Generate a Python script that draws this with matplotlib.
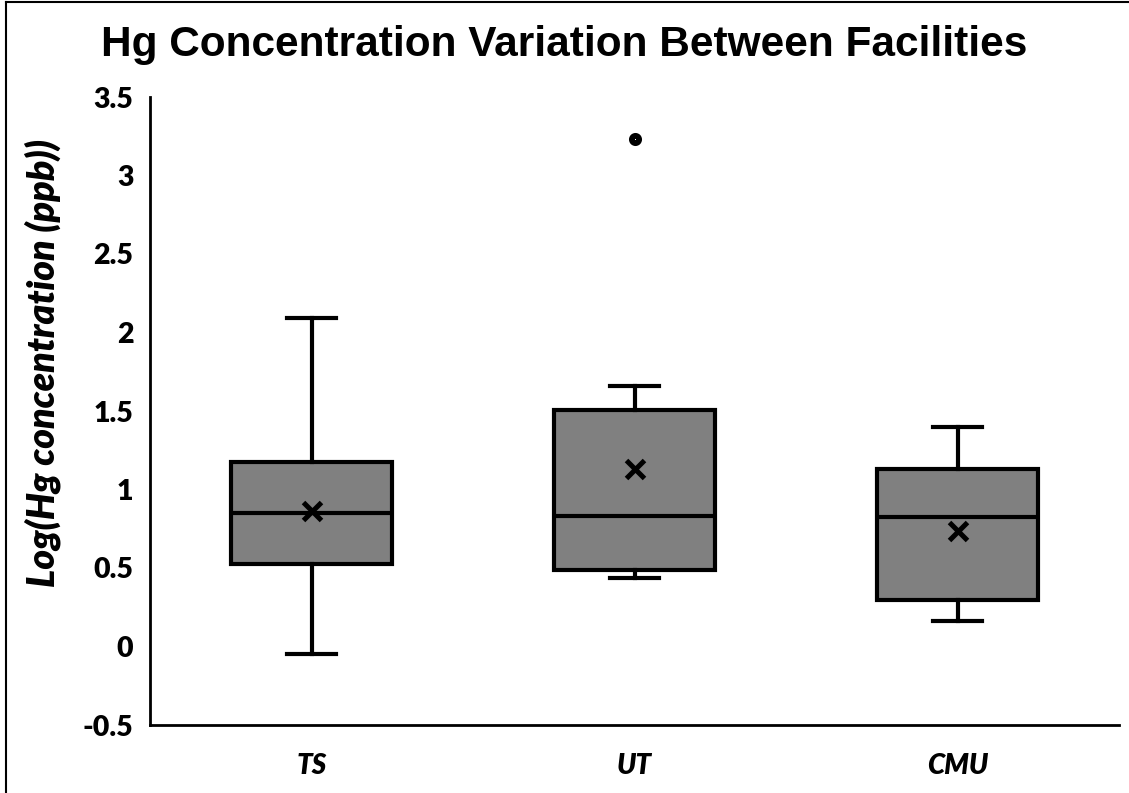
import matplotlib
matplotlib.use("Agg")
import matplotlib.pyplot as plt

# data (log10 of Hg ppb)
facilities = ["TS", "UT", "CMU"]
whisker_low = [-0.045, 0.435, 0.16]
q1 = [0.523, 0.49, 0.293]
median = [0.848, 0.829, 0.823]
q3 = [1.173, 1.505, 1.129]
whisker_high = [2.09, 1.658, 1.397]
means = [0.86, 1.129, 0.733]
outliers = [[], [3.23], []]
yticks = [-0.5, 0, 0.5, 1, 1.5, 2, 2.5, 3, 3.5]
ytick_labels = ["-0.5", "0", "0.5", "1", "1.5", "2", "2.5", "3", "3.5"]

stats = []
for i, name in enumerate(facilities):
    stats.append(dict(label=name, whislo=whisker_low[i], q1=q1[i], med=median[i],
                      q3=q3[i], whishi=whisker_high[i], mean=means[i], fliers=outliers[i]))

fig = plt.figure(figsize=(11.29, 7.93), dpi=100)
ax = fig.add_axes([150/1129, 1-725/793, (1119-150)/1129, (725-97)/793])

lw = 3.0
positions = [1, 2, 3]
ax.bxp(stats, positions=positions, widths=0.5, capwidths=0.15, showmeans=True,
       patch_artist=True, manage_ticks=False,
       boxprops=dict(facecolor="#808080", edgecolor="black", linewidth=lw),
       medianprops=dict(color="black", linewidth=lw),
       whiskerprops=dict(color="black", linewidth=lw),
       capprops=dict(color="black", linewidth=lw),
       meanprops=dict(marker="x", markeredgecolor="black", markersize=12.5, markeredgewidth=3.6),
       flierprops=dict(marker="o", markerfacecolor="white", markeredgecolor="black",
                       markersize=5.2, markeredgewidth=4.2))

ax.set_xlim(0.5, 3.5)
ax.set_ylim(-0.5, 3.5)
ax.set_yticks(yticks)
ax.set_yticklabels(ytick_labels, fontfamily="Lato", fontweight="heavy", fontsize=20.5)
ax.set_xticks(positions)
ax.set_xticklabels(facilities, fontfamily="Lato", fontweight="heavy", fontstyle="italic", fontsize=20)
ax.tick_params(axis="both", length=0)
ax.tick_params(axis="y", pad=12)
ax.tick_params(axis="x", pad=20)
for s in ["top", "right"]:
    ax.spines[s].set_visible(False)
for s in ["left", "bottom"]:
    ax.spines[s].set_linewidth(2)
    ax.spines[s].set_color("black")

fig.text(0.5, 1-45/793, "Hg Concentration Variation Between Facilities", ha="center", va="center",
         fontfamily="Liberation Sans", fontweight="bold", fontsize=30.5)
fig.text(43/1129, 1-363/793, "Log(Hg concentration (ppb))", rotation=90, ha="center", va="center",
         fontfamily="Lato", fontweight="heavy", fontstyle="italic", fontsize=27)

# thin frame on top and left of the picture, as in the reference
fig.add_artist(plt.Line2D([6/1129, 1], [1-2/793, 1-2/793], color="black", linewidth=1.5,
                          transform=fig.transFigure))
fig.add_artist(plt.Line2D([6/1129, 6/1129], [0, 1-2/793], color="black", linewidth=1.5,
                          transform=fig.transFigure))

fig.savefig("out.png", dpi=100)
